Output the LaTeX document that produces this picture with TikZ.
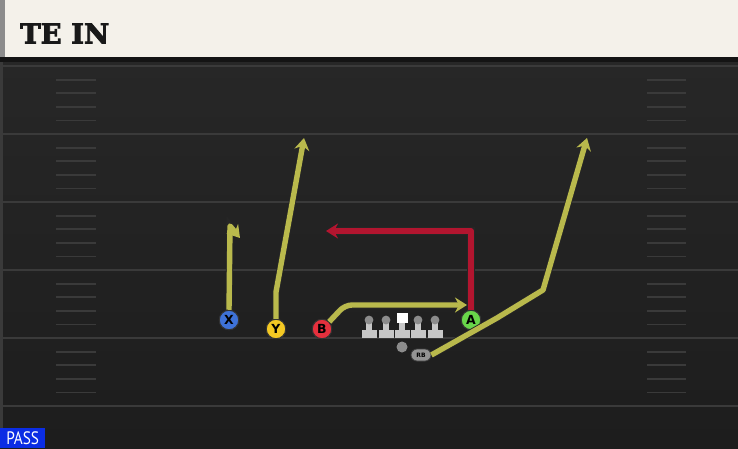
\documentclass[tikz,border=0pt]{standalone}
\usepackage{fontspec}
\usetikzlibrary{arrows.meta, shapes.misc}

\newfontfamily\titlefont[FakeBold=3]{DejaVu Serif Bold}
\newfontfamily\labelfont{DejaVu Sans}
\newfontfamily\tagfont[FakeStretch=0.85]{PT Sans}

\definecolor{fieldTop}{HTML}{272727}
\definecolor{fieldBottom}{HTML}{1D1D1D}
\definecolor{fieldLine}{HTML}{3A3A3A}
\definecolor{headerBg}{HTML}{F4F1EA}
\definecolor{routeYellow}{HTML}{B9B94C}
\definecolor{routeRed}{HTML}{B2152F}
\definecolor{xBlue}{HTML}{3E72D8}
\definecolor{yYellow}{HTML}{F3C823}
\definecolor{bRed}{HTML}{E5303D}
\definecolor{aGreen}{HTML}{68D64A}
\definecolor{passBlue}{HTML}{0B2DE4}

\tikzset{
    yardline/.style = {draw=fieldLine, line width=2pt},
    hashmark/.style = {draw=fieldLine, line width=1.8pt},
    player/.style   = {circle, minimum size=19.5pt, inner sep=0pt, draw=black!80,
                       line width=1pt, text=black,
                       font=\labelfont\bfseries\fontsize{12.5}{12.5}\selectfont},
    route/.style    = {line width=5.4pt, draw=#1, line join=round,
                       preaction={draw=black!85, line width=7.2pt}},
    route/.default  = routeYellow,
    tip/.style      = {-{Stealth[length=12pt, width=15pt, inset=4pt]}},
}

\begin{document}
\begin{tikzpicture}[x=1pt, y=-1pt]
    \useasboundingbox (0,0) rectangle (738,448);

    % Field
    \shade [top color=fieldTop, bottom color=fieldBottom] (0,58) rectangle (738,448);
    \fill [fieldLine] (0,62) rectangle (3,448);
    \foreach \yl in {66, 134, ..., 406}{
        \draw [yardline] (3,\yl) -- (738,\yl);
    }
    \foreach \s in {0,...,4}{
        \foreach \k in {1,...,4}{
            \draw [hashmark] (56, {66 + 68*\s + 13.6*\k}) -- (96, {66 + 68*\s + 13.6*\k});
            \draw [hashmark] (647, {66 + 68*\s + 13.6*\k}) -- (686, {66 + 68*\s + 13.6*\k});
        }
    }

    % Header
    \fill [headerBg] (0,0) rectangle (738,58);
    \fill [black!45] (0,0) rectangle (5,58);
    \fill [black!92] (0,57) rectangle (738,62);
    \node [anchor=base west, text=black!90, inner sep=0pt,
        font=\titlefont\fontsize{27.5}{27.5}\selectfont] (title) at (20,43.5) {TE IN};

    % Offensive line
    \def\drawLineman#1{
        \fill [black!22] (#1-7.5,330) rectangle (#1+7.5,337.5);
        \fill [black!22] (#1-3.2,320) rectangle (#1+3.2,331);
    }
    \foreach \lx in {369, 386, 418, 435}{
        \drawLineman{\lx}
        \fill [black!45] (\lx,320) circle (4.4);
    }
    \drawLineman{402}
    \fill [white] (396.5,312.5) rectangle (407.5,323);

    % Skill players
    \node [player, fill=xBlue]  (X) at (229,320) {X};
    \node [player, fill=yYellow] (Y) at (276,329) {Y};
    \node [player, fill=bRed]   (B) at (322,329) {B};
    \node [player, fill=aGreen] (A) at (471,320) {A};
    \node [circle, fill=black!45, minimum size=11pt, inner sep=0pt] (QB) at (402,347) {};
    \node [rounded rectangle, fill=black!42, draw=black!75, line width=0.8pt,
        minimum width=20pt, minimum height=12pt, inner sep=0pt,
        font=\labelfont\bfseries\fontsize{6}{6}\selectfont] (RB) at (421,355) {RB};

    % Route break points and ends
    \coordinate (xtop)  at (230,226);
    \coordinate (xend)  at (240,238);
    \coordinate (ybrk)  at (276,292);
    \coordinate (yend)  at (304,138);
    \coordinate (bbrk)  at (345,305);
    \coordinate (bend)  at (467,305);
    \coordinate (abrk)  at (471,231);
    \coordinate (aend)  at (326,231);
    \coordinate (rb1)   at (497,318);
    \coordinate (rb2)   at (543,290);
    \coordinate (rbend) at (587,138);

    % Routes
    \draw [route, tip] (X.north) -- (xtop) -- (xend);
    \draw [route, tip] (Y.north) -- (ybrk) -- (yend);
    \draw [route, tip, rounded corners=7pt] (B.north east) -- (bbrk) -- (bend);
    \draw [route=routeRed, tip] (A.north) -- (abrk) -- (aend);
    \draw [route, tip] (RB.east) -- (rb1) -- (rb2) -- (rbend);

    % Play type
    \node [anchor=south west, fill=passBlue, text=white, minimum width=45pt,
        minimum height=20pt, inner sep=0pt,
        font=\tagfont\fontsize{18}{18}\selectfont] (playtype) at (0,448) {PASS};
\end{tikzpicture}
\end{document}
